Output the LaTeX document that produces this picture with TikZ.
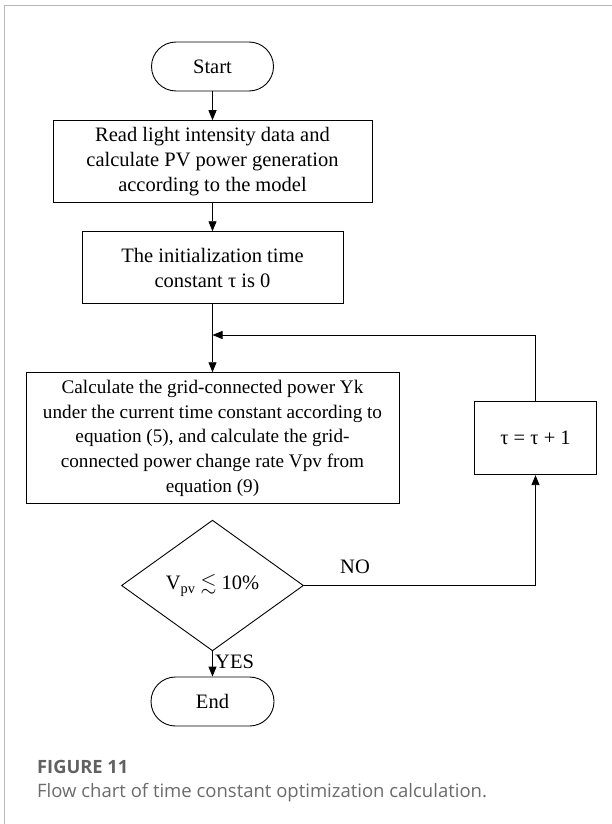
\documentclass[tikz,border=0pt]{standalone}
\usepackage{amssymb}
\usepackage{fontspec}
\setmainfont{Liberation Serif}
\newfontfamily\capfont{Open Sans}
\usetikzlibrary{shapes.geometric,arrows.meta}
\begin{document}
\begin{tikzpicture}[x=1pt,y=-1pt,
  box/.style={draw,line width=0.9pt,inner sep=0pt,align=center,font=\fontsize{20.5}{25}\selectfont},
  lbl/.style={inner sep=0pt,font=\fontsize{20.5}{25}\selectfont},
  arr/.style={-{Triangle[length=10pt,width=8pt]},line width=0.9pt}]
\useasboundingbox (0,0) rectangle (612,824);
\draw[black!28,line width=1pt] (4,830) -- (4,6) -- (620,6);
\node[box, rounded corners=24.5pt, minimum width=122pt, minimum height=49pt] (start) at (212.5,66.5) {Start};
\node[box, minimum width=319pt, minimum height=81.3pt] (b1) at (212.5,161.3) {Read light intensity data and\\calculate PV power generation\\according to the model};
\node[box, minimum width=261pt, minimum height=71.6pt] (b2) at (212.5,267.5) {The initialization time\\constant τ is 0};
\node[box, minimum width=373pt, minimum height=131pt, font=\fontsize{19.2}{24.7}\selectfont] (b3) at (212.5,438.2) {Calculate the grid-connected power Yk\\under the current time constant according to\\equation (5), and calculate the grid-\\connected power change rate Vpv from\\equation (9)};
\node[box, minimum width=121.4pt, minimum height=73pt] (b4) at (535.5,438.2) {τ = τ + 1};
\node[box, diamond, minimum width=182pt, minimum height=130.7pt] (d) at (212.5,585.5) {V\textsubscript{pv} $\lesssim$ 10\%};
\node[box, rounded corners=24.5pt, minimum width=123pt, minimum height=49pt] (end) at (212.5,701.5) {End};
\coordinate (j) at (212.5,335);
\draw[arr] (start) -- (b1);
\draw[arr] (b1) -- (b2);
\draw[arr] (b2) -- (b3);
\draw[arr] (d.east) -| (b4.south);
\draw[arr] (b4.north) |- (j);
\draw[arr] (d) -- (end);
\node[lbl] (no) at (355,567) {NO};
\node[lbl, anchor=west] (yes) at (215,661.7) {YES};
\node[anchor=base west, font=\capfont\bfseries\fontsize{18.3}{20}\selectfont, text=black!62, inner sep=0pt] (fig) at (37,773) {FIGURE 11};
\node[anchor=base west, font=\capfont\fontsize{18.5}{20}\selectfont, text=black!58, inner sep=0pt] (cap) at (37,797) {Flow chart of time constant optimization calculation.};
\end{tikzpicture}
\end{document}
